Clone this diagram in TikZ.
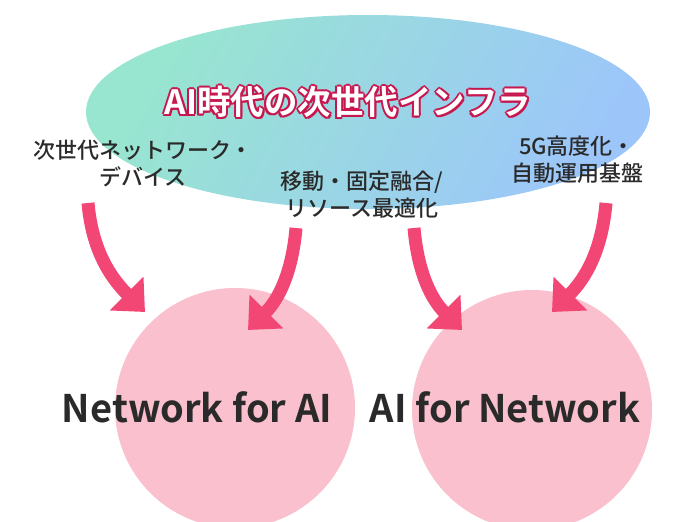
\documentclass[tikz,border=0pt]{standalone}
\usepackage{fontspec}
\setmainfont{Noto Sans CJK JP}[UprightFont=* Medium, BoldFont=* Bold]
\usetikzlibrary{arrows.meta}
\definecolor{mint}{HTML}{98E6CF}
\definecolor{sky}{HTML}{9CC6FA}
\definecolor{bubble}{HTML}{FAC0CD}
\definecolor{flow}{HTML}{F24675}
\definecolor{crimson}{HTML}{C8174E}
\definecolor{ink}{HTML}{2A2A2A}
\tikzset{
  circ/.style = {circle, fill=bubble, minimum size=#1, inner sep=0pt},
  circ/.default = 240pt,
  lab/.style = {text=ink, align=center, font=\fontsize{22}{27}\selectfont},
  big/.style = {text=ink, font=\fontsize{38}{40}\selectfont\bfseries},
  titletext/.style = {font=\fontsize{33.5}{38}\selectfont\bfseries},
  flowarrow/.style = {draw=flow, line width=13pt,
                      -{Triangle[length=26pt, width=46pt]}}
}
\begin{document}
\begin{tikzpicture}[x=1pt,y=-1pt]
	\useasboundingbox (0,0) rectangle (700,521);
	
	% Cloud
	\shade[left color=mint, right color=sky, shading angle=60]
	  (368,112) ellipse [x radius=282, y radius=97];
	
	% Bubbles
	\clip (0,0) rectangle (700,521);
	\node[circ] (nfa) at (235,408) {};
	\node[circ] (afn) at (532,410) {};
	
	% Title
	\foreach \dx/\dy in {-2/0,2/0,0/-2,0/2,-1.5/-1.5,1.5/1.5,-1.5/1.5,1.5/-1.5}
	  \node[titletext, text=crimson] at (348+\dx,102+\dy) {AI時代の次世代インフラ};
	\node[titletext, text=white] (title) at (348,102) {AI時代の次世代インフラ};
	
	% Labels
	\node[lab] (dev) at (143,163) {次世代ネットワーク・\\デバイス};
	\node[lab] (mob) at (362,195) {移動・固定融合/\\リソース最適化};
	\node[lab] (ops) at (577,160) {5G高度化・\\自動運用基盤};
	
	\node[big] (nfatext) at (197,407) {Network for AI};
	\node[big] (afntext) at (505,407) {AI for Network};
	
	% Arrows
	\coordinate (a1) at (88,203);   \coordinate (b1) at (145,312);
	\coordinate (a2) at (296,228);  \coordinate (b2) at (248,330);
	\coordinate (a3) at (414,228);  \coordinate (b3) at (462,330);
	\coordinate (a4) at (606,203);  \coordinate (b4) at (552,312);
	\draw[flowarrow] (a1) to[out=-85, in=135] (b1);
	\draw[flowarrow] (a2) to[out=-95, in=45] (b2);
	\draw[flowarrow] (a3) to[out=-85, in=135] (b3);
	\draw[flowarrow] (a4) to[out=-95, in=45] (b4);
\end{tikzpicture}
\end{document}
